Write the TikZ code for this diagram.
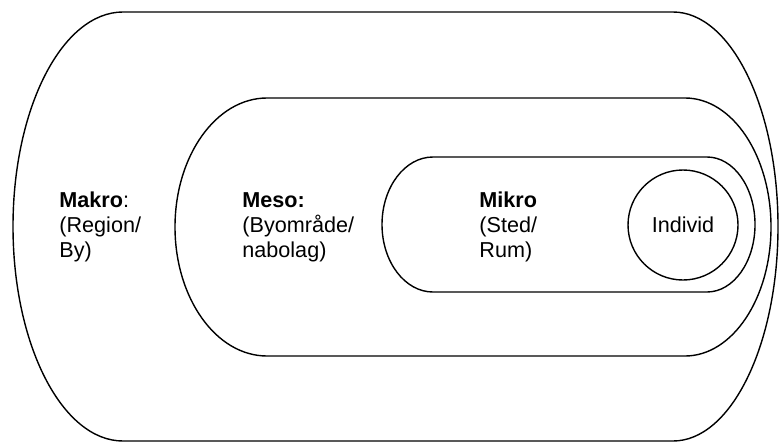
\documentclass[tikz,border=0pt]{standalone}
\usepackage{fontspec}
\setmainfont{Liberation Sans}
\usetikzlibrary{positioning}
\tikzset{
    ring/.style={draw, black, line width=0.7pt},
    level text/.style={align=left, anchor=base west, inner sep=0pt, font=\fontsize{10.8}{12.5}\selectfont},
    person/.style={ring, circle, minimum size=55pt, inner sep=0pt, font=\fontsize{10.8}{12.5}\selectfont}
}
\begin{document}
\begin{tikzpicture}[x=0.5pt, y=-0.5pt]
	\useasboundingbox (0,0) rectangle (779,444);
	% makro
	\draw[ring] (123,12) -- (673,12) arc[start angle=-90, end angle=90, x radius=105, y radius=214.5]
		-- (123,441) arc[start angle=90, end angle=270, x radius=110, y radius=214.5] -- cycle;
	% meso
	\draw[ring] (267,98) -- (685,98) arc[start angle=-90, end angle=90, x radius=86, y radius=129]
		-- (267,356) arc[start angle=90, end angle=270, x radius=92, y radius=129] -- cycle;
	% mikro
	\draw[ring] (433,157) -- (707,157) arc[start angle=-90, end angle=90, x radius=48, y radius=67.5]
		-- (433,292) arc[start angle=90, end angle=270, x radius=51, y radius=67.5] -- cycle;
	% labels (base = last line)
	\node[level text] (makro) at (59,257) {\textbf{Makro}:\\(Region/\\By)};
	\node[level text] (meso) at (242,257) {\textbf{Meso:}\\(Byområde/\\nabolag)};
	\node[level text] (mikro) at (479,257) {\textbf{Mikro}\\(Sted/\\Rum)};
	\node[person] (individ) at (683,225) {Individ};
\end{tikzpicture}
\end{document}
